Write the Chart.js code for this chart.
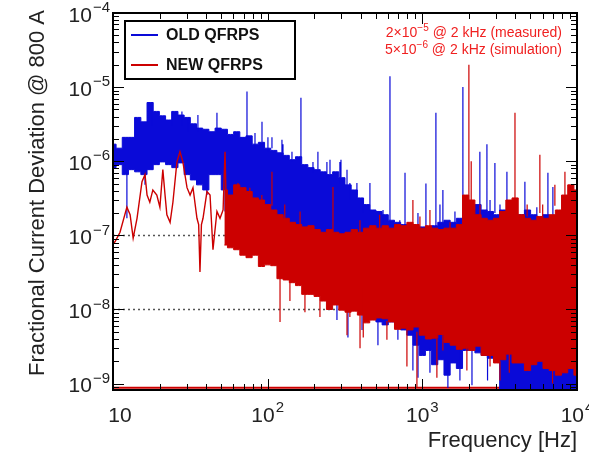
<!DOCTYPE html>
<html>
<head>
<meta charset="utf-8">
<script src="https://cdn.jsdelivr.net/npm/chart.js@4.4.1/dist/chart.umd.min.js"></script>
<style>
  html, body { margin: 0; padding: 0; background: #fff; }
</style>
</head>
<body>
<canvas id="spectrum" width="589" height="454"></canvas>
<script>
// frequency grid of the band envelopes (Hz)
const bandFreq = [10, 10.96, 12.02, 13.18, 14.45, 15.85, 17.38, 19.05, 20.89, 22.91,
  25.12, 27.54, 30.2, 33.11, 36.31, 39.81, 43.65, 47.86, 52.48, 57.54,
  63.1, 69.18, 75.86, 83.18, 91.2, 100, 109.6, 120.2, 131.8, 144.5,
  158.5, 173.8, 190.5, 208.9, 229.1, 251.2, 275.4, 302, 331.1, 363.1,
  398.1, 436.5, 478.6, 524.8, 575.4, 631, 691.8, 758.6, 831.8, 912,
  1000, 1096, 1202, 1318, 1445, 1585, 1738, 1905, 2089, 2291,
  2512, 2754, 3020, 3311, 3631, 3981, 4365, 4786, 5248, 5754,
  6310, 6918, 7586, 8318, 9120, 10000];

// OLD QFRPS: upper and lower edge of the noise band
const oldHigh = [1.7e-6, 1.5e-6, 2.1e-6, 2.1e-6, 3.9e-6, 3.4e-6, 6.2e-6, 4.7e-6, 4.1e-6, 3.6e-6,
  4.7e-6, 4.2e-6, 3.9e-6, 3.2e-6, 2.8e-6, 2.7e-6, 2.5e-6, 2.8e-6, 2.7e-6, 2.3e-6,
  2.5e-6, 2.1e-6, 2.2e-6, 1.7e-6, 1.8e-6, 1.5e-6, 1.4e-6, 1.3e-6, 1.2e-6, 1.05e-6,
  1.15e-6, 9.0e-7, 8.2e-7, 7.7e-7, 7.2e-7, 6.6e-7, 7.2e-7, 6.0e-7, 4.8e-7, 4.1e-7,
  3.2e-7, 2.6e-7, 2.2e-7, 2.1e-7, 1.9e-7, 1.6e-7, 1.5e-7, 1.4e-7, 1.4e-7, 1.3e-7,
  1.3e-7, 1.25e-7, 1.35e-7, 1.5e-7, 1.6e-7, 1.5e-7, 1.7e-7, 2.6e-7, 2.2e-7, 2.6e-7,
  2.2e-7, 2.1e-7, 1.9e-7, 2.2e-7, 2.1e-7, 1.9e-7, 1.9e-7, 2.2e-7, 1.9e-7, 1.7e-7,
  1.9e-7, 1.6e-7, 1.9e-7, 1.7e-7, 1.9e-7, 1.9e-7];
const oldLow = [8.2e-7, 9.0e-7, 6.6e-7, 7.7e-7, 7.2e-7, 6.6e-7, 7.7e-7, 9.0e-7, 9.8e-7, 9.0e-7,
  8.2e-7, 9.5e-7, 6.6e-7, 5.6e-7, 4.8e-7, 4.1e-7, 6.6e-7, 6.6e-7, 4.1e-7, 3.5e-7,
  3.0e-7, 2.6e-7, 2.2e-7, 2.2e-7, 1.9e-7, 1.9e-7, 1.6e-7, 1.5e-7, 1.4e-7, 1.3e-7,
  1.3e-7, 1.1e-7, 1.1e-7, 9.8e-8, 8.7e-8, 7.4e-8, 6.4e-8, 1.34e-8, 1.15e-8, 1.05e-8,
  9.8e-9, 9.2e-9, 7.7e-9, 6.8e-9, 6.2e-9, 6.8e-9, 5.6e-9, 5.3e-9, 4.5e-9, 3.3e-9,
  2.4e-9, 2.8e-9, 1.8e-9, 2.1e-9, 1.3e-9, 1.9e-9, 1.6e-9, 2.8e-9, 3.0e-9, 2.6e-9,
  2.4e-9, 2.2e-9, 2.0e-9, 8.3e-10, 8.3e-10, 8.3e-10, 8.3e-10, 8.3e-10, 8.3e-10, 8.3e-10,
  8.3e-10, 8.3e-10, 8.3e-10, 8.3e-10, 8.3e-10, 8.3e-10];

// OLD QFRPS: single lines reaching out of the band
const oldSpikeFreq = [13.9, 17.9, 24.1, 27.9, 30.5, 35.4, 47.0, 73.5, 82.8, 91.9,
  100.4, 106.6, 123.7, 125.6, 143.6, 164.1, 196.3, 211.3, 241.6, 252.9,
  293.1, 297.8, 325.8, 340, 377.6, 415, 458.3, 557, 617.6, 715,
  772.7, 937, 1055, 1224, 1300, 1358, 1625, 1829, 2355, 2616,
  2740, 2946, 3177, 3523, 4604, 5500, 6486, 6984, 7800,
  12.3, 16.1, 40.5, 53.0, 280.5, 330.4, 407.4, 516.4, 695, 869,
  937.5, 1120, 1463, 1750, 2094, 2640];
const oldSpikeFrom = [2e-6, 3e-6, 3e-6, 3e-6, 2.5e-6, 2.5e-6, 2.5e-6, 2.0e-6, 1.5e-6, 1.8e-6,
  1.3e-6, 1.5e-6, 1.3e-6, 1.1e-6, 1.0e-6, 1.1e-6, 7e-7, 7.7e-7, 6e-7, 6.6e-7,
  5e-7, 6.0e-7, 4.8e-7, 3e-7, 3.5e-7, 2e-7, 2.2e-7, 1.5e-7, 1.6e-7, 1.2e-7,
  1.4e-7, 1.2e-7, 1.3e-7, 1.3e-7, 1.2e-7, 1.5e-7, 1.2e-7, 1.7e-7, 2.2e-7, 2.2e-7,
  1.5e-7, 2.0e-7, 1.5e-7, 2.1e-7, 1.9e-7, 1.5e-7, 1.9e-7, 1.7e-7, 1.5e-7,
  7e-7, 7e-7, 4.5e-7, 4e-7, 6e-8, 1.3e-8, 1e-8, 8e-9, 7e-9, 5e-9,
  4e-9, 3e-9, 2e-9, 3e-9, 3e-9, 2.5e-9];
const oldSpikeTo = [3.9e-6, 6.2e-6, 4.7e-6, 4.7e-6, 3.9e-6, 4.2e-6, 4.5e-6, 8.7e-6, 2.4e-6, 3.4e-6,
  2.1e-6, 2.1e-6, 1.95e-6, 1.7e-6, 1.34e-6, 7.2e-6, 9.8e-7, 1.34e-6, 9.8e-7, 1.05e-6,
  9.8e-7, 1.05e-6, 7.7e-7, 5.1e-7, 5.1e-7, 3.2e-7, 5.1e-7, 2.2e-7, 1.4e-5, 1.6e-7,
  7.0e-7, 2.0e-7, 5.0e-7, 4.5e-6, 2.6e-7, 4.1e-7, 2.1e-7, 1.0e-5, 1.34e-6, 1.7e-6,
  3.0e-7, 9.5e-7, 2.6e-7, 7.2e-7, 5.3e-7, 2.4e-7, 7.0e-7, 4.5e-7, 1.8e-7,
  1.7e-7, 4.8e-7, 3.5e-7, 2.1e-7, 7.2e-9, 4.2e-9, 5.3e-9, 3.3e-9, 3.9e-9, 1.5e-9,
  1.2e-9, 1.4e-9, 8.7e-10, 1.1e-9, 9.5e-10, 1.1e-9];

// NEW QFRPS: thin trace at low frequency
const newLineFreq = [10, 10.3, 11.1, 12.3, 12.9, 13.5, 14.3, 15.4, 16.1, 16.6,
  17.3, 18.1, 19.2, 20.1, 21.0, 21.7, 22.3, 23.4, 24.4, 25.9,
  27.1, 28.3, 30.1, 31.5, 32.9, 34.9, 35.8, 36.5, 37.3, 38.2,
  40.5, 42.4, 44.3, 45.5, 47.0, 49.2, 51.5, 53.0, 54.0, 55.4];
const newLineVal = [7.7e-8, 8.2e-8, 1.1e-7, 2.4e-7, 1.9e-7, 9.2e-8, 1.7e-7, 5.3e-7, 6.6e-7, 3.5e-7,
  2.8e-7, 4.1e-7, 3.5e-7, 2.4e-7, 7.7e-7, 3.5e-7, 1.9e-7, 1.5e-7, 2.8e-7, 9.8e-7,
  1.34e-6, 9.8e-7, 4.4e-7, 3.5e-7, 4.4e-7, 1.7e-7, 1.4e-7, 3.2e-8, 1.4e-7, 1.7e-7,
  3.9e-7, 3.5e-7, 6.4e-8, 1.1e-7, 2.1e-7, 1.7e-7, 2.2e-7, 1.34e-6, 2.4e-7, 2.1e-7];

// NEW QFRPS: noise band from ~50 Hz up
const newBandFreq = bandFreq.slice(18);
const newHigh = [4.1e-7, 3.5e-7, 4.8e-7, 4.4e-7, 3.9e-7, 3.2e-7, 3.0e-7, 2.6e-7, 2.2e-7, 1.9e-7,
  1.7e-7, 1.5e-7, 1.4e-7, 1.3e-7, 1.35e-7, 1.2e-7, 1.1e-7, 1.2e-7, 1.1e-7, 1.05e-7,
  1.1e-7, 1.2e-7, 1.1e-7, 1.25e-7, 1.35e-7, 1.25e-7, 1.35e-7, 1.25e-7, 1.4e-7, 1.35e-7,
  1.5e-7, 1.4e-7, 1.25e-7, 1.35e-7, 1.25e-7, 1.2e-7, 1.25e-7, 1.25e-7, 1.4e-7, 3.5e-7,
  3.0e-7, 1.9e-7, 1.7e-7, 1.6e-7, 1.7e-7, 2.1e-7, 3.0e-7, 3.2e-7, 1.9e-7, 1.7e-7,
  1.6e-7, 1.8e-7, 1.7e-7, 1.9e-7, 2.2e-7, 3.5e-7, 4.8e-7, 4.1e-7];
const newLow = [7.4e-8, 6.8e-8, 6.4e-8, 5.4e-8, 5.0e-8, 5.4e-8, 3.8e-8, 4.0e-8, 3.9e-8, 2.6e-8,
  2.5e-8, 2.3e-8, 2.1e-8, 1.6e-8, 1.6e-8, 1.5e-8, 1.3e-8, 1.0e-8, 1.15e-8, 9.8e-9,
  9.2e-9, 9.5e-9, 8.4e-9, 6.6e-9, 7.2e-9, 7.7e-9, 7.5e-9, 6.8e-9, 5.4e-9, 5.6e-9,
  5.3e-9, 5.8e-9, 4.5e-9, 4.0e-9, 4.1e-9, 4.6e-9, 3.6e-9, 3.3e-9, 2.9e-9, 3.0e-9,
  2.8e-9, 3.2e-9, 2.4e-9, 2.4e-9, 1.9e-9, 2.1e-9, 2.5e-9, 1.9e-9, 1.9e-9, 1.5e-9,
  1.8e-9, 2.0e-9, 1.6e-9, 1.5e-9, 1.3e-9, 1.4e-9, 1.6e-9, 1.3e-9];

// NEW QFRPS: single lines reaching out of the band
const newSpikeFreq = [64.3, 76.7, 91.7, 106.6, 129, 162, 264.4, 395, 530, 869,
  965, 1120, 1510, 2000, 2070, 2360, 3972, 4760, 5754, 6000,
  7194, 8356,
  120.2, 139.3, 174.2, 217.8, 325.8, 340, 395.5, 415, 590.2, 795,
  922.6, 1242, 1358, 1941, 2740, 3177, 3650, 6950];
const newSpikeFrom = [4e-7, 3.5e-7, 3e-7, 2.5e-7, 1.7e-7, 1.4e-7, 1.1e-7, 1.1e-7, 1.2e-7, 1.3e-7,
  1.2e-7, 1.2e-7, 1.2e-7, 3e-7, 3e-7, 1.8e-7, 3e-7, 1.8e-7, 2e-7, 1.8e-7,
  2.5e-7, 3e-7,
  3e-8, 2.5e-8, 2e-8, 1.5e-8, 1.2e-8, 2e-8, 9e-9, 2e-8, 7e-9, 6e-9,
  5e-9, 4e-9, 1e-8, 3e-9, 3e-9, 2e-9, 3e-9, 3e-9];
const newSpikeTo = [5.1e-7, 4.4e-7, 3.5e-7, 7.2e-7, 2.6e-7, 2.1e-7, 4.5e-7, 1.6e-7, 1.9e-7, 3.0e-7,
  1.8e-7, 2.2e-7, 1.5e-7, 2e-5, 1e-6, 2.6e-7, 4.5e-6, 2.6e-7, 1.22e-6, 2.6e-7,
  4.8e-7, 7.2e-7,
  6.8e-9, 1.3e-8, 9.2e-9, 7.9e-9, 4.5e-9, 7.9e-9, 3.0e-9, 4.2e-9, 3.9e-9, 1.7e-9,
  9.0e-10, 1.2e-9, 2.8e-9, 1.5e-9, 1.7e-9, 1.1e-9, 1.4e-9, 1.0e-9];

// red trace lying on the floor of the plot
const floorFreq = [10, 3200];
const floorVal = [8.8e-10, 8.8e-10];

const xTicks = [10, 100, 1000, 10000];
const yTicks = [1e-4, 1e-5, 1e-6, 1e-7, 1e-8, 1e-9];
const refLevels = [1e-7, 1e-8];

const BLUE = '#0a0ad8';
const RED = '#cc0000';
const FONT = '"Liberation Sans", Arial, sans-serif';

function pts(xs, ys) {
  return xs.map((x, i) => ({ x: x, y: ys[i] }));
}

// each spike is a vertical stroke, separated by a gap
function spikes(fs, from, to) {
  const out = [];
  fs.forEach((f, i) => {
    out.push({ x: f, y: from[i] }, { x: f, y: to[i] }, { x: f, y: null });
  });
  return out;
}

// "10" with a raised exponent; returns total width
function powWidth(ctx, exp, base, sup) {
  ctx.font = base;
  let w = ctx.measureText('10').width;
  if (exp !== 1) {
    ctx.font = sup;
    w += ctx.measureText(String(exp).replace('-', '\u2212')).width + 1;
  }
  return w;
}

function drawPow(ctx, exp, left, midY, base, sup) {
  ctx.textAlign = 'left';
  ctx.textBaseline = 'middle';
  ctx.font = base;
  ctx.fillText('10', left, midY);
  if (exp === 1) return;
  const wb = ctx.measureText('10').width;
  ctx.font = sup;
  ctx.fillText(String(exp).replace('-', '\u2212'), left + wb + 1, midY - 8);
}

// text runs with optional superscripts, right aligned at x
function drawRuns(ctx, runs, right, y, size) {
  const normal = size + 'px ' + FONT;
  const small = Math.round(size * 0.7) + 'px ' + FONT;
  let total = 0;
  runs.forEach(r => {
    ctx.font = r[1] ? small : normal;
    total += ctx.measureText(r[0]).width;
  });
  let x = right - total;
  ctx.textAlign = 'left';
  ctx.textBaseline = 'middle';
  runs.forEach(r => {
    ctx.font = r[1] ? small : normal;
    ctx.fillText(r[0], x, r[1] ? y - 5 : y);
    x += ctx.measureText(r[0]).width;
  });
}

const axisFrame = {
  id: 'axisFrame',
  beforeDatasetsDraw(chart) {
    const { ctx, chartArea: a, scales: { y } } = chart;
    ctx.save();
    ctx.strokeStyle = '#555';
    ctx.lineWidth = 1.5;
    ctx.setLineDash([2, 3]);
    refLevels.forEach(v => {
      const py = Math.round(y.getPixelForValue(v)) + 0.5;
      ctx.beginPath();
      ctx.moveTo(a.left, py);
      ctx.lineTo(a.right, py);
      ctx.stroke();
    });
    ctx.restore();
  },
  afterDatasetsDraw(chart) {
    const { ctx, chartArea: a, scales: { x, y } } = chart;
    ctx.save();

    // ticks on all four sides, pointing inwards
    ctx.strokeStyle = '#000';
    ctx.lineWidth = 1;
    ctx.beginPath();
    for (let d = 10; d < 10000; d *= 10) {
      for (let m = 1; m < 10; m++) {
        const px = Math.round(x.getPixelForValue(d * m)) + 0.5;
        const len = m === 1 ? 11 : 6;
        ctx.moveTo(px, a.bottom); ctx.lineTo(px, a.bottom - len);
        ctx.moveTo(px, a.top); ctx.lineTo(px, a.top + len);
      }
    }
    for (let e = -10; e < -4; e++) {
      for (let m = 1; m < 10; m++) {
        const v = Number(m + 'e' + e);
        if (v < y.min || v > y.max) continue;
        const py = Math.round(y.getPixelForValue(v)) + 0.5;
        const len = m === 1 ? 11 : 6;
        ctx.moveTo(a.left, py); ctx.lineTo(a.left + len, py);
        ctx.moveTo(a.right, py); ctx.lineTo(a.right - len, py);
      }
    }
    ctx.stroke();

    ctx.lineWidth = 2;
    ctx.strokeRect(a.left, a.top, a.right - a.left, a.bottom - a.top);

    // tick labels
    const base = '21px ' + FONT;
    const sup = '15px ' + FONT;
    ctx.fillStyle = '#222';
    yTicks.forEach(v => {
      const e = Math.round(Math.log10(v));
      const py = y.getPixelForValue(v);
      const w = powWidth(ctx, e, base, sup);
      drawPow(ctx, e, 110 - w, py + 3, base, sup);
    });
    xTicks.forEach(v => {
      const e = Math.round(Math.log10(v));
      const px = x.getPixelForValue(v);
      const w = powWidth(ctx, e, base, sup);
      const left = e === 1 ? px + 7 - w / 2 : px - w / 2;
      drawPow(ctx, e, left, 416, base, sup);
    });

    // axis titles
    ctx.font = '22px ' + FONT;
    ctx.textAlign = 'right';
    ctx.textBaseline = 'middle';
    ctx.fillText('Frequency [Hz]', a.right, 441);
    ctx.save();
    ctx.translate(38, 10);
    ctx.rotate(-Math.PI / 2);
    ctx.fillText('Fractional Current Deviation @ 800 A', 0, 0);
    ctx.restore();

    // legend box
    ctx.fillStyle = '#fff';
    ctx.fillRect(125, 21, 170, 58);
    ctx.strokeStyle = '#000';
    ctx.lineWidth = 2;
    ctx.strokeRect(125, 21, 170, 58);
    [[BLUE, 'OLD QFRPS', 35], [RED, 'NEW QFRPS', 65]].forEach(item => {
      ctx.strokeStyle = item[0];
      ctx.lineWidth = 2;
      ctx.beginPath();
      ctx.moveTo(131, item[2]);
      ctx.lineTo(158, item[2]);
      ctx.stroke();
      ctx.fillStyle = '#111';
      ctx.font = 'bold 16px ' + FONT;
      ctx.textAlign = 'left';
      ctx.textBaseline = 'middle';
      ctx.fillText(item[1], 166, item[2] + 1);
    });

    // annotation
    ctx.fillStyle = '#f02020';
    drawRuns(ctx, [['2\u00d710', false], ['\u22125', true], [' @ 2 kHz (measured)', false]], 562, 33, 14);
    drawRuns(ctx, [['5\u00d710', false], ['\u22126', true], [' @ 2 kHz (simulation)', false]], 562, 50, 14);

    ctx.restore();
  }
};

new Chart(document.getElementById('spectrum'), {
  type: 'line',
  data: {
    datasets: [
      { label: 'NEW spikes', data: spikes(newSpikeFreq, newSpikeFrom, newSpikeTo),
        borderColor: RED, borderWidth: 1.2, order: 1 },
      { label: 'NEW QFRPS', data: pts(newLineFreq, newLineVal),
        borderColor: RED, borderWidth: 1.4, order: 2 },
      { label: 'NEW high', data: pts(newBandFreq, newHigh), stepped: 'middle',
        borderColor: RED, backgroundColor: RED, borderWidth: 1, fill: '+1', order: 3 },
      { label: 'NEW low', data: pts(newBandFreq, newLow), stepped: 'middle',
        borderColor: RED, borderWidth: 1, order: 4 },
      { label: 'OLD spikes', data: spikes(oldSpikeFreq, oldSpikeFrom, oldSpikeTo),
        borderColor: BLUE, borderWidth: 1.2, order: 5 },
      { label: 'OLD QFRPS', data: pts(bandFreq, oldHigh), stepped: 'middle',
        borderColor: BLUE, backgroundColor: BLUE, borderWidth: 1, fill: '+1', order: 6 },
      { label: 'OLD low', data: pts(bandFreq, oldLow), stepped: 'middle',
        borderColor: BLUE, borderWidth: 1, order: 7 },
      { label: 'floor', data: pts(floorFreq, floorVal),
        borderColor: RED, borderWidth: 2, order: 8 }
    ]
  },
  options: {
    responsive: false,
    animation: false,
    layout: { padding: { left: 113, right: 12, top: 13, bottom: 64 } },
    elements: { point: { radius: 0 }, line: { tension: 0 } },
    plugins: { legend: { display: false }, tooltip: { enabled: false } },
    scales: {
      x: { type: 'logarithmic', min: 10, max: 10000, display: false },
      y: { type: 'logarithmic', min: 8.2e-10, max: 1e-4, display: false }
    }
  },
  plugins: [axisFrame]
});
</script>
</body>
</html>
